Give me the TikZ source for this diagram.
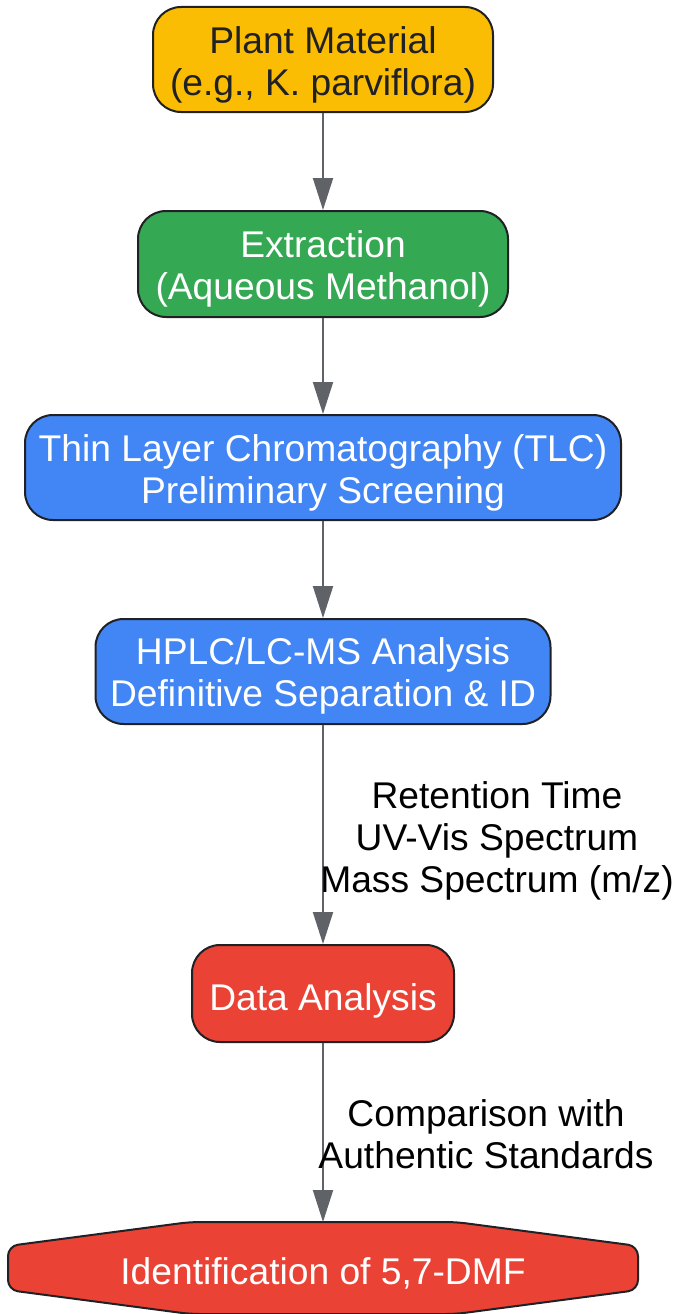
\documentclass[tikz,border=0pt]{standalone}
\usepackage{fontspec}
\setmainfont{Liberation Sans}
\usetikzlibrary{arrows.meta,positioning}

\definecolor{plantyellow}{HTML}{FBBC04}
\definecolor{extractgreen}{HTML}{34A853}
\definecolor{analysisblue}{HTML}{4285F4}
\definecolor{resultred}{HTML}{EA4335}
\definecolor{linegray}{HTML}{5F6368}
\definecolor{edgedark}{HTML}{202124}

% text line set a little lower, keeping its size
\newcommand{\lowered}[2][5pt]{\raisebox{-#1}[\height][\depth]{#2}}

\tikzset{
  stepbox/.style={draw=edgedark, line width=2pt, rounded corners=28pt,
    align=center, inner sep=0pt, font=\fontsize{37.2}{42}\selectfont},
  flowarrow/.style={draw=linegray, line width=2pt,
    -{Triangle[length=32pt,width=20pt]}},
  edgetext/.style={align=center, inner sep=0pt, font=\fontsize{37.2}{42}\selectfont}
}

\begin{document}
\begin{tikzpicture}[x=1pt,y=-1pt]
    \useasboundingbox (0,0) rectangle (676,1314);
    % boxes of the workflow
    \node (plant) [stepbox, fill=plantyellow, text=edgedark, minimum width=340pt, minimum height=105pt]
        at (323,59.5) {\lowered{Plant Material}\\\lowered{(e.g., K. parviflora)}};
    \node (extract) [stepbox, fill=extractgreen, text=white, minimum width=370pt, minimum height=106pt]
        at (323,264) {\lowered{Extraction}\\\lowered{(Aqueous Methanol)}};
    \node (tlc) [stepbox, fill=analysisblue, text=white, minimum width=596pt, minimum height=105pt]
        at (323,467.5) {\lowered{Thin Layer Chromatography (TLC)}\\\lowered{Preliminary Screening}};
    \node (hplc) [stepbox, fill=analysisblue, text=white, minimum width=455pt, minimum height=105pt]
        at (323,671.5) {\lowered[4pt]{HPLC/LC-MS Analysis}\\\lowered[4pt]{Definitive Separation \& ID}};
    \node (data) [stepbox, fill=resultred, text=white, minimum width=262pt, minimum height=97pt]
        at (323,993.5) {\lowered[7pt]{Data Analysis}};
    % final result, flat hexagon
    \filldraw [fill=resultred, draw=edgedark, line width=2pt, rounded corners=10pt]
        (190,1222) -- (456,1222) -- (638,1246) -- (638,1290) -- (456,1314)
        -- (190,1314) -- (8,1290) -- (8,1246) -- cycle;
    \node (ident) [edgetext, text=white] at (323,1273) {Identification of 5,7-DMF};
    \coordinate (identtop) at (323,1222);
    % connectors
    \draw [flowarrow] (plant) -- (extract);
    \draw [flowarrow] (extract) -- (tlc);
    \draw [flowarrow] (tlc) -- (hplc);
    \draw [flowarrow] (hplc) -- (data);
    \draw [flowarrow] (data.south) -- (identtop);
    % labels on the connectors
    \node (hplclabel) [edgetext] at (497,841) {Retention Time\\UV-Vis Spectrum\\Mass Spectrum (m/z)};
    \node (datalabel) [edgetext] at (486,1134) {Comparison with\\Authentic Standards};
\end{tikzpicture}
\end{document}
